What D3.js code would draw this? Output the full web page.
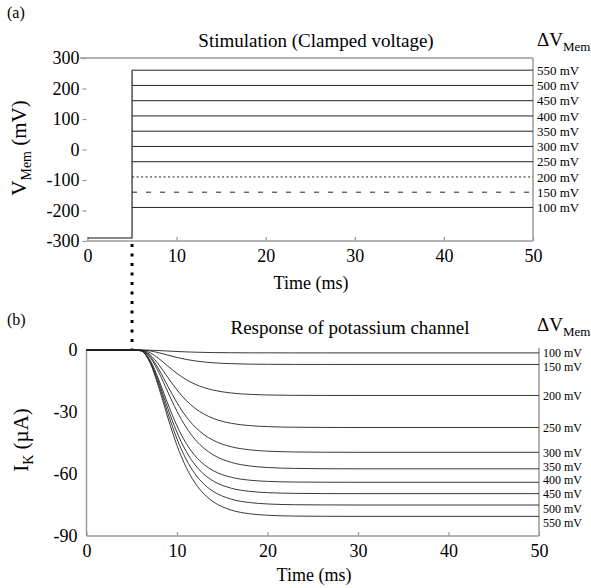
<!DOCTYPE html>
<html><head><meta charset="utf-8">
<script src="https://cdn.jsdelivr.net/npm/d3@7"></script>
<style>
body{margin:0;background:#fff;}
svg{display:block;font-family:"Liberation Serif","DejaVu Serif",serif;}
</style></head><body>
<svg id="c" width="591" height="588"></svg>
<script>
// ---------- data ----------
const deltaV = [100,150,200,250,300,350,400,450,500,550];
const deltaLabels = ["100 mV","150 mV","200 mV","250 mV","300 mV","350 mV","400 mV","450 mV","500 mV","550 mV"];
const restV = -290;
const stepTime = 5;
const clampLevels = [-190,-140,-90,-40,10,60,110,160,210,260];
const vTicks = [300,200,100,0,-100,-200,-300];
const timeTicks = [0,10,20,30,40,50];
const iTicks = [0,-30,-60,-90];

const times = [0,5,6,7,8,9,10,11,12,13,14,16,18,20,23,26,30,50];
const I100 = [0,0,-0.01,-0.09,-0.27,-0.5,-0.72,-0.91,-1.05,-1.16,-1.24,-1.32,-1.37,-1.38,-1.4,-1.4,-1.4,-1.4];
const I150 = [0,0,-0.02,-0.42,-1.33,-2.49,-3.61,-4.55,-5.27,-5.8,-6.18,-6.62,-6.83,-6.92,-6.98,-6.99,-7,-7];
const I200 = [0,0,-0.08,-1.3,-4.18,-7.83,-11.35,-14.29,-16.56,-18.22,-19.41,-20.81,-21.46,-21.76,-21.93,-21.98,-22,-22];
const I250 = [0,0,-0.13,-2.22,-7.13,-13.35,-19.34,-24.35,-28.22,-31.06,-33.09,-35.47,-36.58,-37.08,-37.37,-37.46,-37.5,-37.5];
const I300 = [0,0,-0.17,-2.94,-9.41,-17.62,-25.53,-32.15,-37.25,-41.0,-43.68,-46.82,-48.28,-48.95,-49.33,-49.45,-49.5,-49.5];
const I350 = [0,0,-0.2,-3.41,-10.94,-20.46,-29.65,-37.34,-43.27,-47.63,-50.74,-54.38,-56.09,-56.86,-57.3,-57.44,-57.5,-57.5];
const I400 = [0,0,-0.3,-4.77,-14.57,-26.19,-36.74,-45.08,-51.19,-55.46,-58.36,-61.59,-62.98,-63.57,-63.88,-63.97,-64,-64];
const I450 = [0,0,-0.33,-5.18,-15.83,-28.44,-39.89,-48.95,-55.59,-60.22,-63.38,-66.89,-68.39,-69.03,-69.37,-69.47,-69.5,-69.5];
const I500 = [0,0,-0.35,-5.59,-17.08,-30.69,-43.05,-52.82,-59.99,-64.99,-68.39,-72.18,-73.81,-74.5,-74.87,-74.96,-75,-75];
const I550 = [0,0,-0.38,-6.0,-18.33,-32.94,-46.21,-56.7,-64.38,-69.75,-73.41,-77.47,-79.22,-79.96,-80.36,-80.46,-80.5,-80.5];
const currents = [I100,I150,I200,I250,I300,I350,I400,I450,I500,I550];
// where the panel (b) labels sit, in current units
const bLabelVals = [-1.5,-8,-22,-37.5,-49.5,-56.6,-62.9,-69.8,-76.6,-83.4];

// ---------- drawing ----------
const svg = d3.select("#c");
const axisCol = "#9a9a9a";
const fmt = d => String(d);

// Panel (a)
const xa = d3.scaleLinear().domain([0,50]).range([87.5,533]);
const ya = d3.scaleLinear().domain([-300,300]).range([241,58]);
const ga = svg.append("g");

ga.append("line").attr("x1",80).attr("x2",xa(50)).attr("y1",ya(300)).attr("y2",ya(300)).attr("stroke",axisCol).attr("stroke-width",1.5);
ga.append("line").attr("x1",xa(0)-1).attr("x2",xa(50)).attr("y1",ya(-300)).attr("y2",ya(-300)).attr("stroke",axisCol).attr("stroke-width",1.5);
ga.append("line").attr("x1",xa(50)).attr("x2",xa(50)).attr("y1",ya(300)).attr("y2",ya(-300)).attr("stroke",axisCol).attr("stroke-width",1.5);

const yAxisA = d3.axisLeft(ya).tickValues(vTicks).tickFormat(fmt).tickSize(4).tickPadding(3);
const gya = ga.append("g").attr("transform",`translate(${xa(0)-1},0)`).call(yAxisA);
gya.select(".domain").remove();
gya.selectAll(".tick line").attr("stroke",axisCol).attr("stroke-width",1.2);
gya.selectAll(".tick text").attr("font-size",18).attr("font-family","Liberation Serif").attr("fill","#000");

const xAxisA = d3.axisBottom(xa).tickValues(timeTicks).tickFormat(fmt).tickSize(-4).tickPadding(8);
const gxa = ga.append("g").attr("transform",`translate(0,${ya(-300)})`).call(xAxisA);
gxa.select(".domain").remove();
gxa.selectAll(".tick line").attr("stroke",axisCol).attr("stroke-width",1.2);
gxa.selectAll(".tick text").attr("font-size",18).attr("font-family","Liberation Serif").attr("fill","#000");

const lineA = d3.line().x(d=>xa(d[0])).y(d=>ya(d[1]));
// resting segment and the voltage step
ga.append("path").attr("d",lineA([[0,restV],[stepTime,restV],[stepTime,d3.max(clampLevels)]]))
  .attr("fill","none").attr("stroke","#111").attr("stroke-width",1.1);
const dashA = {150:"5,9",200:"2,2.5"};
clampLevels.forEach((lv,i)=>{
  const pts = [[stepTime,lv],[50,lv]];
  ga.append("path").attr("d",lineA(pts)).attr("fill","none").attr("stroke","#222").attr("stroke-width",1)
    .attr("stroke-dasharray", dashA[deltaV[i]] || null);
  ga.append("text").attr("x",xa(50)+4).attr("y",ya(lv)).attr("dy","0.35em").attr("font-size",13).attr("fill","#000").text(deltaLabels[i]);
});

ga.append("text").attr("x",316).attr("y",47).attr("text-anchor","middle").attr("font-size",19).text("Stimulation (Clamped voltage)");
ga.append("text").attr("x",311).attr("y",289).attr("text-anchor","middle").attr("font-size",18).text("Time (ms)");
const dva = ga.append("text").attr("x",537).attr("y",46).attr("font-size",19);
dva.append("tspan").text("ΔV");
dva.append("tspan").attr("font-size",13).attr("dy",5).text("Mem");
const yta = ga.append("text").attr("transform","translate(26,148) rotate(-90)").attr("text-anchor","middle").attr("font-size",21);
yta.append("tspan").text("V");
yta.append("tspan").attr("font-size",14).attr("dy",5).text("Mem");
yta.append("tspan").attr("dy",-5).text(" (mV)");
svg.append("text").attr("x",7).attr("y",18).attr("font-size",16).text("(a)");

// Panel (b)
const xb = d3.scaleLinear().domain([0,50]).range([86.5,539]);
const yb = d3.scaleLinear().domain([-90,0]).range([536,350]);
const gb = svg.append("g");
gb.append("line").attr("x1",xb(0)).attr("x2",xb(0)).attr("y1",yb(0)).attr("y2",yb(-90)).attr("stroke",axisCol).attr("stroke-width",1.5);
gb.append("line").attr("x1",xb(0)).attr("x2",xb(50)).attr("y1",yb(-90)).attr("y2",yb(-90)).attr("stroke",axisCol).attr("stroke-width",1.5);
gb.append("line").attr("x1",xb(50)).attr("x2",xb(50)).attr("y1",yb(0)-2).attr("y2",yb(-90)).attr("stroke",axisCol).attr("stroke-width",1.5);

const yAxisB = d3.axisLeft(yb).tickValues(iTicks).tickFormat(fmt).tickSize(0).tickPadding(9);
const gyb = gb.append("g").attr("transform",`translate(${xb(0)},0)`).call(yAxisB);
gyb.select(".domain").remove();
gyb.selectAll(".tick text").attr("font-size",18).attr("font-family","Liberation Serif").attr("fill","#000");

const xAxisB = d3.axisBottom(xb).tickValues(timeTicks).tickFormat(fmt).tickSize(-4).tickPadding(8);
const gxb = gb.append("g").attr("transform",`translate(0,${yb(-90)})`).call(xAxisB);
gxb.select(".domain").remove();
gxb.selectAll(".tick line").attr("stroke",axisCol).attr("stroke-width",1.2);
gxb.selectAll(".tick text").attr("font-size",18).attr("font-family","Liberation Serif").attr("fill","#000");

const lineB = d3.line().x(d=>xb(d[0])).y(d=>yb(d[1])).curve(d3.curveMonotoneX);
currents.forEach((arr,i)=>{
  const pts = times.map((t,j)=>[t,arr[j]]);
  gb.append("path").attr("d",lineB(pts)).attr("fill","none").attr("stroke","#222").attr("stroke-width",0.9);
  gb.append("text").attr("x",xb(50)+4).attr("y",yb(bLabelVals[i])).attr("dy","0.35em").attr("font-size",12).attr("fill","#000").text(deltaLabels[i]);
});

gb.append("text").attr("x",350).attr("y",334).attr("text-anchor","middle").attr("font-size",19).text("Response of potassium channel");
gb.append("text").attr("x",314).attr("y",581).attr("text-anchor","middle").attr("font-size",18).text("Time (ms)");
const dvb = gb.append("text").attr("x",537).attr("y",331).attr("font-size",19);
dvb.append("tspan").text("ΔV");
dvb.append("tspan").attr("font-size",13).attr("dy",5).text("Mem");
const ytb = gb.append("text").attr("transform","translate(28,440) rotate(-90)").attr("text-anchor","middle").attr("font-size",21);
ytb.append("tspan").text("I");
ytb.append("tspan").attr("font-size",14).attr("dy",5).text("K");
ytb.append("tspan").attr("dy",-5).text(" (µA)");
svg.append("text").attr("x",7).attr("y",325).attr("font-size",16).text("(b)");

// dotted connector at stimulation onset
svg.append("line").attr("x1",xa(stepTime)).attr("x2",xa(stepTime)).attr("y1",ya(-300)+3).attr("y2",yb(0)-1)
  .attr("stroke","#000").attr("stroke-width",3).attr("stroke-dasharray","3,6.5");
</script>
</body></html>
